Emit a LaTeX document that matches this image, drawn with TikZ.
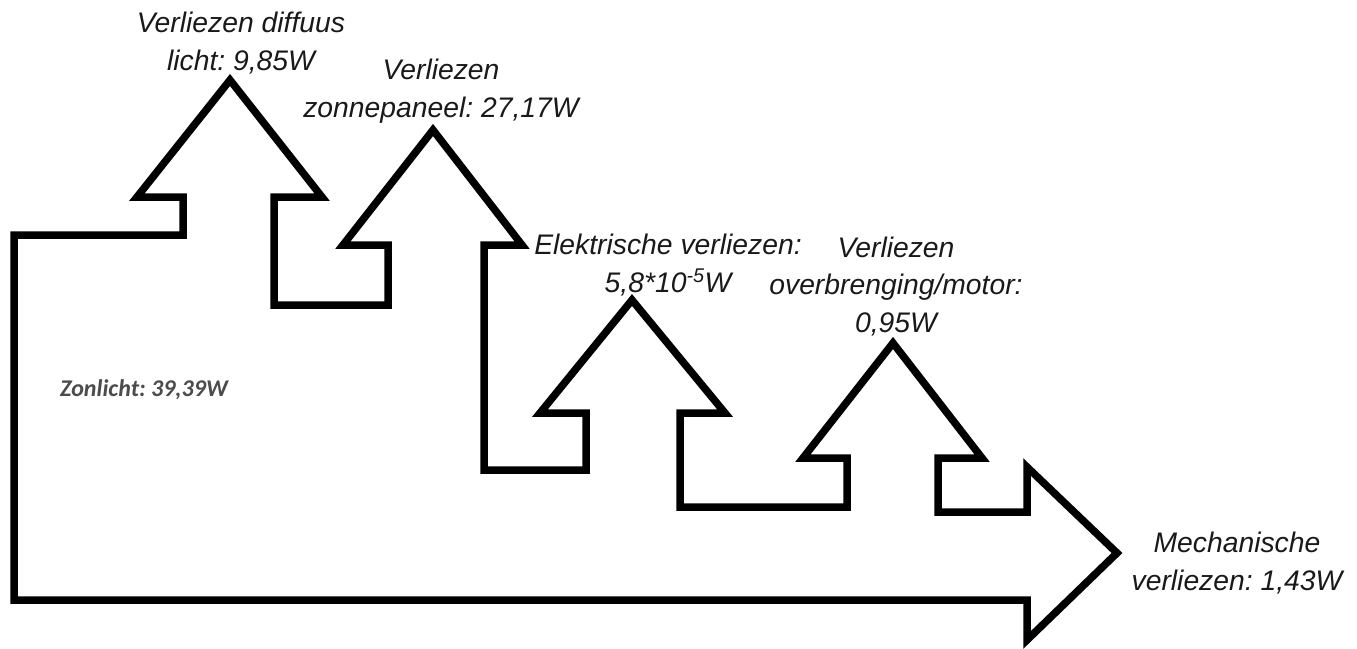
\documentclass[tikz,border=0pt]{standalone}
\usepackage{fontspec}
\setmainfont{Liberation Sans}
\newfontfamily\zonfont{Carlito}
\frenchspacing
\begin{document}
\begin{tikzpicture}[x=1pt,y=-1pt,
  flow/.style={draw=black,line width=7.5pt,line join=miter,fill=white},
  lbl/.style={font=\fontsize{28.3}{37.5}\selectfont\itshape,text=black!90,align=center,inner sep=0pt},
  zlbl/.style={font=\zonfont\fontsize{24}{28}\selectfont\bfseries\itshape,text=black!70,inner sep=0pt,anchor=west}]
\useasboundingbox (0,0) rectangle (1357,648);
\draw[flow] (14,600) -- (14,235) -- (183,235) -- (183,197) -- (137,197) -- (230,80) -- (322,197) -- (274,197)
  -- (274,305) -- (388,305) -- (388,245) -- (343,245) -- (433,130) -- (522,245) -- (484,245)
  -- (484,470) -- (586,470) -- (586,413) -- (540,413) -- (632,300) -- (725,413) -- (680,413)
  -- (680,507) -- (847,507) -- (847,458) -- (803,458) -- (893,343) -- (982,458) -- (938,458)
  -- (938,512) -- (1027,512) -- (1027,467) -- (1117,553) -- (1027,640) -- (1027,600) -- cycle;
\node[lbl,anchor=base] (diff) at (241,70) {Verliezen diffuus\\licht: 9,85W};
\node[lbl,anchor=base] (zon) at (441,117) {Verliezen\\zonnepaneel: 27,17W};
\node[lbl,anchor=base] (elek) at (668,292) {Elektrische verliezen:\\5,8*10\textsuperscript{-5}W};
\node[lbl,anchor=base] (over) at (896,332) {Verliezen\\overbrenging/motor:\\0,95W};
\node[lbl,anchor=base] (mech) at (1237,590) {Mechanische\\verliezen: 1,43W};
\node[zlbl] (zl) at (60,390) {Zonlicht: 39,39W};
\end{tikzpicture}
\end{document}
